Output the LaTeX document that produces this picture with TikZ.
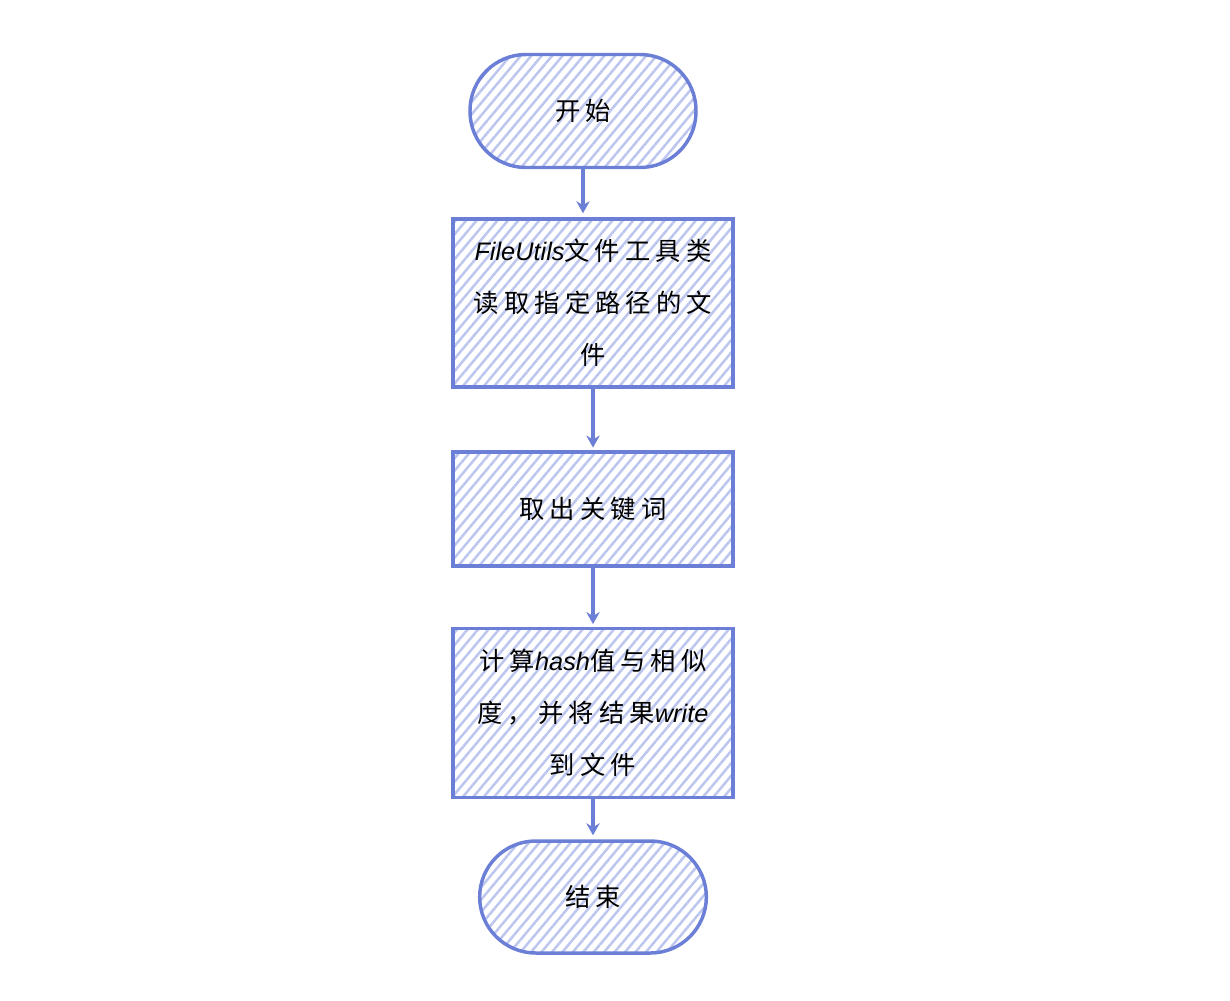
\documentclass[tikz,border=0pt]{standalone}
\usepackage{fontspec}
\setmainfont{Noto Sans CJK SC}[LetterSpace=20]
\newfontfamily\latfont{Liberation Sans}
\usetikzlibrary{patterns.meta,arrows.meta}
\definecolor{strokeblue}{HTML}{6B7FD7}
\definecolor{hatchblue}{HTML}{BDC6EE}
\newcommand{\lt}[1]{{\latfont\itshape #1}}
\tikzset{
  shapebase/.style={draw=strokeblue, line width=2.6pt,
    pattern={Lines[angle=50,distance=6pt,line width=1.9pt]}, pattern color=hatchblue,
    inner sep=0pt, align=center, font=\fontsize{19pt}{39pt}\selectfont},
  terminal/.style={shapebase, rounded corners=42pt},
  procbox/.style={shapebase, minimum width=210pt},
  flowarrow/.style={draw=strokeblue, line width=2.4pt, -{Stealth[length=9pt,width=10pt]}}
}
\begin{document}
\begin{tikzpicture}[x=0.75pt,y=-0.75pt]
\useasboundingbox (0,0) rectangle (1230,1000);
\node[terminal, minimum width=169.5pt, minimum height=84.75pt] (start) at (583,111) {开始};
\node[procbox, minimum height=126pt] (read) at (593,303) {\lt{FileUtils}文件工具类\\读取指定路径的文\\件};
\node[procbox, minimum height=85.5pt] (kw) at (593,509) {取出关键词};
\node[procbox, minimum height=126.75pt] (calc) at (593,713) {计算\lt{hash}值与相似\\度，并将结果\lt{write}\\到文件};
\node[terminal, minimum width=170pt, minimum height=84pt] (end) at (593,897) {结束};
\draw[flowarrow] (start.south) -- ([yshift=3pt]start.south |- read.north);
\draw[flowarrow] (read.south) -- ([yshift=2pt]kw.north);
\draw[flowarrow] (kw.south) -- ([yshift=2pt]calc.north);
\draw[flowarrow] (calc.south) -- ([yshift=3pt]end.north);
\end{tikzpicture}
\end{document}
